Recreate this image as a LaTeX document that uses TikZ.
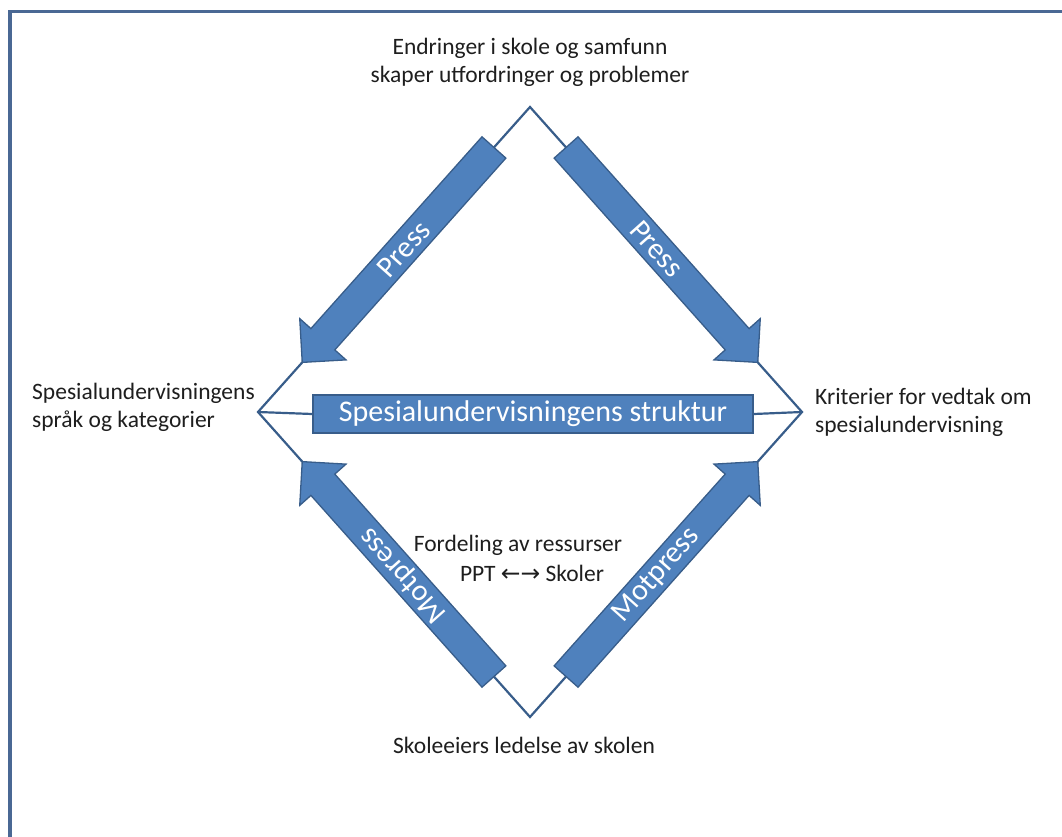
\documentclass[tikz,border=0pt]{standalone}
\usepackage{fontspec}
\setmainfont{Carlito}
\newfontfamily\symbolfont{DejaVu Sans}
\usetikzlibrary{positioning,calc}

\definecolor{boxblue}{HTML}{4F81BD}
\definecolor{boxline}{HTML}{385D8A}
\definecolor{frameblue}{HTML}{4A6894}
\definecolor{labelgray}{HTML}{1E1E1E}

\def\pressshape{(-144,-16) -- (113,-16) -- (113,-31) -- (144,0) -- (113,31) -- (113,16) -- (-144,16) -- cycle}

\begin{document}
\begin{tikzpicture}[x=1pt, y=-1pt,
    sidetext/.style={inner sep=0pt, text=labelgray, align=left, font=\fontsize{23.5}{28}\selectfont},
    arrowtext/.style={inner sep=0pt, text=white, font=\fontsize{30}{36}\selectfont},
    diamondline/.style={draw=boxline, line width=2.2pt},
    blockarrow/.style={fill=boxblue, draw=boxline, line width=1.3pt}]
  \useasboundingbox (0,0) rectangle (1062,837);
  \draw[frameblue, line width=3.3pt] (10,837) -- (10,11.5) -- (1062,11.5);

  % corners of the diamond
  \coordinate (vtop) at (530,107);
  \coordinate (vleft) at (258,412);
  \coordinate (vright) at (802,412);
  \coordinate (vbottom) at (530,717);

  \node[draw=boxline, line width=1.6pt, fill=boxblue, minimum width=440pt, minimum height=38pt,
    inner sep=0pt, text=white, font=\fontsize{30}{36}\selectfont] (struct) at (533,414) {Spesialundervisningens struktur};

  \draw[diamondline] (vtop) -- (vleft) -- (vbottom) -- (vright) -- cycle;
  \draw[diamondline] (vleft) -- (struct.west);
  \draw[diamondline] (struct.east) -- (vright);

  % press and counter-press along the sides
  \foreach \from/\to/\dir/\txt/\rot [count=\i] in {vtop/vleft/228.27/Press/48.27,
      vtop/vright/-48.27/Press/-48.27, vbottom/vleft/131.73/Motpress/131.73,
      vbottom/vright/48.27/Motpress/48.27}{
    \coordinate (mid\i) at ($(\from)!0.485!(\to)$);
    \begin{scope}[shift={(mid\i)}, rotate=\dir]
      \filldraw[blockarrow] \pressshape;
      \node[arrowtext, rotate=\rot] (arrowtext\i) at (-8,0) {\txt};
    \end{scope}
  }

  \node[sidetext, align=center, above=20pt of vtop] (change) {Endringer i skole og samfunn\\skaper utfordringer og problemer};
  \node[sidetext, left=3pt of vleft, yshift=5pt] (language) {Spesialundervisningens\\språk og kategorier};
  \node[sidetext, right=13pt of vright] (criteria) {Kriterier for vedtak om\\spesialundervisning};
  \node[sidetext, below=20pt of vbottom, xshift=-6pt] (owners) {Skoleeiers ledelse av skolen};
  \node[sidetext] (resources) at (518,545) {Fordeling av ressurser};
  \node[sidetext, below=10pt of resources, xshift=14pt] (ppt) {PPT {\symbolfont ←→} Skoler};
\end{tikzpicture}
\end{document}
